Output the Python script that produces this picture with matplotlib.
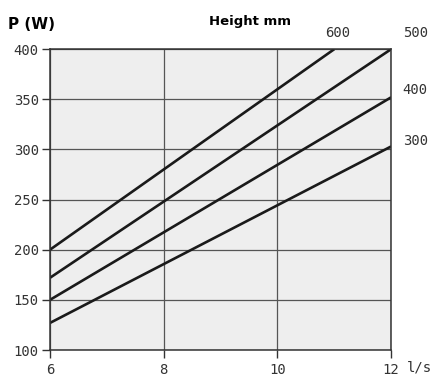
import matplotlib.pyplot as plt
import numpy as np

# flow (l/s) vs power (W) for each height
heights = ['600', '500', '400', '300']
flow_start = [6, 6, 6, 6]
flow_end = [11, 12, 12, 12]
power_start = [200, 172, 150, 127]
power_end = [400, 400, 352, 303]

x_ticks = [6, 8, 10, 12]
y_ticks = [100, 150, 200, 250, 300, 350, 400]

label_offsets = [(3, 16), (24, 16), (24, 7), (24, 5)]

mono = 'DejaVu Sans Mono'

fig = plt.figure(figsize=(4.42, 3.78), dpi=100)
ax = fig.add_axes([0.113, 0.074, 0.772, 0.796])
ax.set_facecolor('#eeeeee')

ax.set_xlim(6, 12)
ax.set_ylim(100, 400)
ax.set_xticks(x_ticks)
ax.set_yticks(y_ticks)
ax.set_xticklabels([str(v) for v in x_ticks], fontfamily=mono, fontsize=10)
ax.set_yticklabels([str(v) for v in y_ticks], fontfamily=mono, fontsize=10)
ax.tick_params(axis='both', length=6, width=1, color='#333333', labelcolor='#333333')
ax.tick_params(axis='x', pad=3)
ax.tick_params(axis='y', pad=2)
ax.grid(True, color='#555555', linewidth=0.9)
ax.set_axisbelow(True)
for s in ax.spines.values():
    s.set_color('#333333')
    s.set_linewidth(1.1)

for h, x0, x1, y0, y1, off in zip(heights, flow_start, flow_end, power_start, power_end, label_offsets):
    ax.plot([x0, x1], [y0, y1], color='#1a1a1a', linewidth=1.9, solid_capstyle='butt')
    ax.annotate(h, xy=(x1, y1), xytext=off, textcoords='offset pixels',
                ha='center', va='center', fontfamily=mono, fontsize=10,
                color='#333333', annotation_clip=False)

fig.text(0.018, 0.934, 'P (W)', fontsize=11, fontweight='bold', ha='left', va='center')
fig.text(0.565, 0.942, 'Height mm', fontsize=9.5, fontweight='bold', ha='center', va='center')
fig.text(0.978, 0.027, 'l/s', fontfamily=mono, fontsize=10, ha='right', va='center', color='#333333')

fig.savefig('out.png', dpi=100)
